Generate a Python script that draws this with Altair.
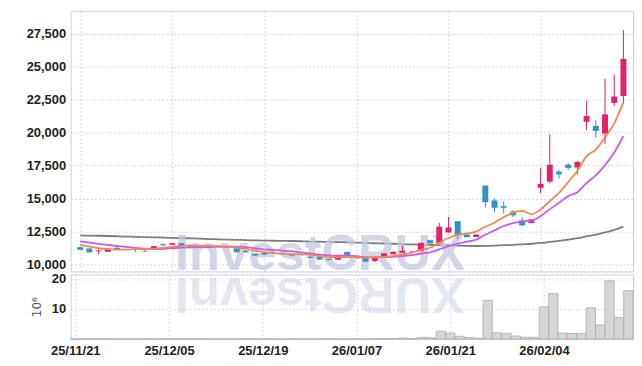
import altair as alt
import pandas as pd

# ---------------- data ----------------
idx = list(range(60))
tick_idx = [0, 10, 20, 30, 40, 50]
tick_labels = ["25/11/21", "25/12/05", "25/12/19", "26/01/07", "26/01/21", "26/02/04"]

open_ = [11300, 11200, 10990, 10950, 11250, 11160, 11180, 10980, 11130, 11520,
         11480, 11600, 11360, 11350, 11260, 11300, 11340, 11210, 11030, 10780,
         10860, 10920, 10820, 10780, 10770, 10570, 10570, 10400, 10350, 10940,
         10620, 10500, 10250, 10630, 10760, 10880, 10990, 11000, 11830, 11580,
         12420, 13270, 12260, 12080, 15980, 14850, 14420, 14020, 13340, 13140,
         15810, 16280, 17040, 17570, 17360, 20830, 20510, 19930, 22260, 22790]
high = [11320, 11220, 11150, 11230, 11330, 11180, 11300, 11050, 11400, 11600,
        11650, 11610, 11380, 11370, 11390, 11420, 11360, 11220, 11050, 10800,
        10950, 11000, 10840, 10800, 10790, 10650, 10580, 10420, 10720, 10950,
        10640, 10520, 10540, 10850, 10980, 11400, 11050, 11650, 11850, 13150,
        13600, 13280, 12280, 12280, 16000, 14980, 14780, 14100, 13590, 13440,
        17320, 19880, 17170, 17690, 17850, 22450, 20940, 24090, 24410, 27800]
low = [11080, 10900, 10760, 10940, 11140, 11100, 10950, 10960, 11120, 11370,
       11470, 11390, 11230, 11240, 11250, 11290, 11240, 10900, 10880, 10640,
       10720, 10850, 10740, 10640, 10670, 10450, 10340, 10300, 10320, 10670,
       10440, 10180, 10150, 10600, 10740, 10860, 10940, 10980, 11570, 11560,
       12400, 11890, 12040, 12070, 14300, 13970, 13850, 13600, 12890, 13100,
       15400, 16160, 16510, 17170, 16810, 20180, 19620, 19130, 22020, 22190]
close = [11100, 10910, 11050, 11200, 11160, 11120, 11090, 11020, 11380, 11440,
         11600, 11400, 11240, 11250, 11370, 11400, 11250, 10910, 10920, 10660,
         10740, 10890, 10760, 10660, 10690, 10490, 10350, 10330, 10700, 10680,
         10460, 10200, 10520, 10830, 10950, 11020, 10960, 11630, 11590, 12860,
         12800, 12210, 12060, 12260, 14720, 14300, 14300, 13720, 12960, 13420,
         16110, 17570, 16830, 17320, 17770, 21260, 20130, 21390, 22750, 25610]
ma_orange = [11480, 11350, 11220, 11150, 11120, 11120, 11150, 11150, 11180, 11240,
             11330, 11390, 11430, 11410, 11400, 11360, 11330, 11260, 11190, 11050,
             10920, 10850, 10820, 10770, 10770, 10720, 10620, 10530, 10540, 10540,
             10530, 10500, 10540, 10570, 10620, 10730, 10880, 11100, 11260, 11640,
             12000, 12250, 12340, 12480, 12850, 13160, 13580, 13920, 14060, 13800,
             14160, 14800, 15420, 16250, 17100, 18220, 18720, 19640, 20700, 22300]
ma_purple = [11735, 11650, 11560, 11470, 11390, 11320, 11250, 11190, 11150, 11170,
             11220, 11270, 11290, 11300, 11320, 11350, 11360, 11350, 11300, 11220,
             11140, 11090, 11040, 10980, 10910, 10820, 10730, 10670, 10650, 10650,
             10620, 10550, 10530, 10550, 10570, 10630, 10690, 10820, 10910, 11130,
             11370, 11570, 11720, 11870, 12250, 12580, 12910, 13120, 13260, 13320,
             13650, 14190, 14670, 15180, 15480, 16180, 16760, 17530, 18500, 19750]
ma_gray = [12190, 12180, 12170, 12150, 12130, 12110, 12090, 12070, 12050, 12030,
           12010, 11990, 11970, 11950, 11920, 11900, 11880, 11860, 11840, 11820,
           11800, 11790, 11780, 11770, 11750, 11730, 11720, 11700, 11690, 11670,
           11650, 11630, 11600, 11580, 11560, 11530, 11510, 11490, 11470, 11460,
           11440, 11420, 11400, 11390, 11400, 11420, 11450, 11480, 11520, 11560,
           11620, 11700, 11780, 11870, 11980, 12120, 12260, 12420, 12620, 12860]
volume = [0.05, 0.05, 0.05, 0.05, 0.05, 0.05, 0.05, 0.05, 0.05, 0.05,
          0.05, 0.05, 0.05, 0.05, 0.05, 0.05, 0.05, 0.05, 0.05, 0.05,
          0.05, 0.05, 0.05, 0.05, 0.05, 0.05, 0.05, 0.05, 0.05, 0.05,
          0.05, 0.05, 0.05, 0.1, 0.1, 0.35, 0.1, 0.55, 0.4, 2.6,
          2.0, 0.9, 0.5, 0.3, 12.9, 2.1, 1.8, 1.0, 0.6, 0.6,
          10.7, 15.1, 2.0, 1.8, 1.8, 10.4, 4.7, 19.4, 7.2, 16.1]
price_ticks = [10000, 12500, 15000, 17500, 20000, 22500, 25000, 27500]
vol_ticks = [10, 20]
watermark = "InvestCRUX"

df = pd.DataFrame({"idx": idx, "open": open_, "high": high, "low": low, "close": close,
                   "ma5": ma_orange, "ma10": ma_purple, "ma60": ma_gray, "vol": volume})

# ---------------- styling ----------------
PINK = "#e3206b"
BLUE = "#2f93c6"
ORANGE = "#f08850"
PURPLE = "#c85cee"
GRAY = "#7c7c7c"
GRID = "#c6cadc"
DASH = [1.5, 2.5]
LFONT = "Liberation Sans"

W = 566
x_scale = alt.Scale(domain=[-0.5, 59.5], nice=False, zero=False)

label_expr = "''"
for v, t in reversed(list(zip(tick_idx, tick_labels))):
    label_expr = f"datum.value == {v} ? '{t}' : ({label_expr})"

y_scale = alt.Scale(domain=[9457, 29235], nice=False, zero=False)
price_axis = alt.Axis(values=price_ticks, labelExpr="format(datum.value, ',')", title=None,
                      ticks=False, domain=False,
                      labelFont=LFONT, labelFontWeight="bold", labelFontSize=13, labelColor="#222",
                      labelPadding=5, grid=True, gridColor=GRID, gridDash=DASH)
x_axis_price = alt.Axis(values=tick_idx, labels=False, ticks=False, domain=False, title=None,
                        grid=True, gridColor=GRID, gridDash=DASH)


def px(field="idx"):
    return alt.X(f"{field}:Q", scale=x_scale, axis=x_axis_price, title=None)


def py(field):
    return alt.Y(f"{field}:Q", scale=y_scale, axis=price_axis, title=None)


color_enc = alt.Color("dir:N", scale=alt.Scale(domain=["up", "down"], range=[PINK, BLUE]), legend=None)

base = alt.Chart(df).transform_calculate(dir="datum.close >= datum.open ? 'up' : 'down'")

wm_df = pd.DataFrame({"t": [watermark]})
wm_main = alt.Chart(wm_df).mark_text(font="Liberation Sans", fontWeight="bold", fontSize=51,
                                     color="#c3c9de", opacity=0.75, align="center",
                                     baseline="alphabetic", clip=True).encode(
    text="t:N", x=alt.value(251), y=alt.value(261))

wick = base.mark_rule(strokeWidth=1).encode(x=px(), y=py("low"), y2="high:Q", color=color_enc)
body = base.mark_bar(size=6).encode(x=px(), y=py("open"), y2="close:Q", color=color_enc)


def ma_line(field, col):
    return alt.Chart(df).mark_line(color=col, strokeWidth=1.8, interpolate="monotone").encode(
        x=px(), y=py(field))


price = alt.layer(ma_line("ma60", GRAY), wm_main, wick, body,
                  ma_line("ma10", PURPLE), ma_line("ma5", ORANGE)).properties(width=W, height=262)

wm_ref = alt.Chart(wm_df).transform_calculate(r="'XURCtsevnI'").mark_text(
    font="Liberation Sans", fontWeight="bold", fontSize=51, color="#c3c9de", opacity=0.45,
    align="center", baseline="alphabetic", angle=180, clip=True).encode(
    text="r:N", x=alt.value(251), y=alt.value(4))

x_axis_vol = alt.Axis(values=tick_idx, labelExpr=label_expr, title=None, ticks=False, domain=False,
                      labelFont=LFONT, labelFontWeight="bold", labelFontSize=13, labelColor="#222",
                      labelPadding=6, grid=True, gridColor=GRID, gridDash=DASH)
y_axis_vol = alt.Axis(values=vol_ticks, title="10⁶", ticks=False, domain=False,
                      labelFont=LFONT, labelFontWeight="bold", labelFontSize=13, labelColor="#222",
                      labelPadding=5, titleFont="DejaVu Sans", titleFontWeight="normal",
                      titleFontSize=12, titleColor="#555", titlePadding=8,
                      grid=True, gridColor=GRID, gridDash=DASH)

vol_bars = alt.Chart(df).transform_calculate(x0="datum.idx - 0.5", x1="datum.idx + 0.5").mark_bar(
    fill="#d6d6d6", stroke="#acacac", strokeWidth=0.8).encode(
    x=alt.X("x0:Q", scale=x_scale, axis=x_axis_vol),
    x2="x1:Q",
    y=alt.Y("vol:Q", scale=alt.Scale(domain=[0, 21.5], nice=False), axis=y_axis_vol),
    y2=alt.datum(0))

vol = alt.layer(vol_bars, wm_ref).properties(width=W, height=65)

chart = alt.vconcat(price, vol, spacing=0).properties(
    padding={"left": 17, "top": 1, "right": 0, "bottom": 2}
).configure_view(stroke="#cdd0d8", strokeWidth=1).configure_concat(spacing=0)

chart.save("out.html", embed_options={"renderer": "svg", "actions": False})
